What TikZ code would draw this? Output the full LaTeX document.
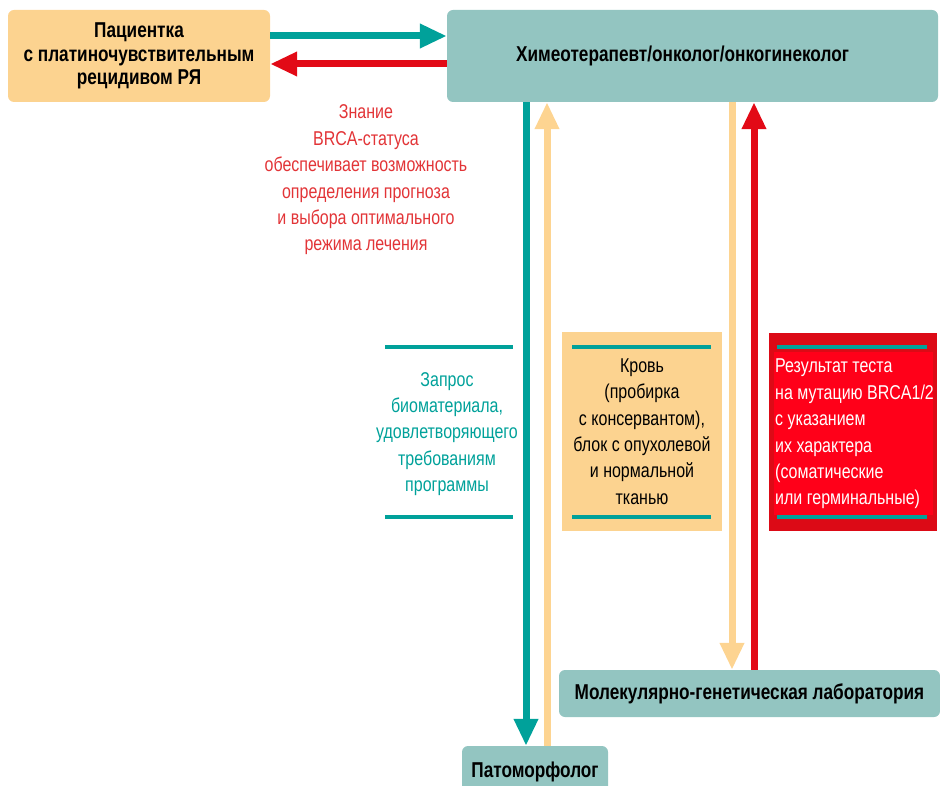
\documentclass[tikz,border=0pt]{standalone}
\usepackage{fontspec}
\setmainfont{Liberation Sans}[FakeStretch=0.8]
\usepackage{tikz}
\usetikzlibrary{arrows.meta,positioning,calc}
\definecolor{TealC}{RGB}{0,161,154}
\definecolor{TealBox}{RGB}{147,197,193}
\definecolor{OrBox}{RGB}{252,211,144}
\definecolor{OrArr}{RGB}{253,212,145}
\definecolor{RedC}{RGB}{226,10,22}
\definecolor{RedTxt}{RGB}{226,52,55}
\definecolor{RedOut}{RGB}{220,10,22}
\definecolor{RedIn}{RGB}{255,0,25}
\tikzset{
  box/.style={rounded corners=6pt,inner sep=0pt,align=center,
              font=\fontsize{21.5}{23.5}\selectfont\bfseries},
  pat/.style={box,fill=OrBox},
  spec/.style={box,fill=TealBox},
  note/.style={align=center,inner sep=0pt,font=\fontsize{20}{26.4}\selectfont},
  bar/.style={TealC,line width=4.5pt},
  tealarr/.style={-{Triangle[length=27pt,width=23pt]},line width=7pt,TealC},
  redarr/.style={-{Triangle[length=27pt,width=23pt]},line width=7pt,RedC},
  orarr/.style={-{Triangle[length=27pt,width=23pt]},line width=7pt,OrArr},
}

\begin{document}
\begin{tikzpicture}[x=1pt,y=-1pt]
  \useasboundingbox (0,0) rectangle (940,786);
  % boxes
  \node[pat,minimum width=262pt,minimum height=92pt] (pat) at (139,56)
    {Пациентка\\с платиночувствительным\\рецидивом РЯ};
  \node[spec,minimum width=491pt,minimum height=92pt] (chemo) at (692.5,56)
    {Химеотерапевт/онколог/онкогинеколог\hspace*{20pt}};
  \node[spec,minimum width=146pt,minimum height=52pt] (pato) at (535,772) {Патоморфолог};
  \node[spec,minimum width=381pt,minimum height=47pt] (lab) at (749.5,693.5)
    {Молекулярно-генетическая лаборатория};
  % arrows
  \draw[tealarr] ([yshift=20pt]pat.east) -- ([yshift=20pt]chemo.west);
  \draw[redarr] ([yshift=-8pt]chemo.west) -- ([yshift=-8pt]pat.east);
  \draw[tealarr] ([xshift=-166.5pt]chemo.south) -- ([xshift=-9pt]pato.north);
  \draw[orarr] ([xshift=12pt]pato.north) -- ([xshift=-145.5pt]chemo.south);
  \draw[orarr] ([xshift=39.5pt]chemo.south) -- ([xshift=-17.5pt]lab.north);
  \draw[redarr] ([xshift=4.5pt]lab.north) -- ([xshift=61.5pt]chemo.south);
  % texts
  \node[note,text=RedTxt] (know) at (366,180)
    {Знание\\BRCA-статуса\\обеспечивает возможность\\определения прогноза\\и выбора оптимального\\режима лечения};
  \node[note,text=TealC] (req) at (447,434)
    {Запрос\\биоматериала,\\удовлетворяющего\\требованиям\\программы};
  \node[note,fill=OrBox,minimum width=160pt,minimum height=199pt] (blood) at (642,431.5)
    {Кровь\\(пробирка\\с консервантом),\\блок с опухолевой\\и нормальной\\тканью};
  \node[fill=RedOut,minimum width=168pt,minimum height=198pt,inner sep=0pt] (res) at (853,432) {};
  \fill[RedIn] (774,352) rectangle (933,515);
  \node[note,align=left,anchor=west,text=white] (restxt) at (775,434)
    {Результат теста\\на мутацию BRCA1/2\\с указанием\\их характера\\(соматические\\или герминальные)};
  \foreach \y in {347,517} {
    \draw[bar] (385,\y) -- (513,\y);
    \draw[bar] (572,\y) -- (711,\y);
    \draw[bar] (777,\y) -- (927,\y);
  }
\end{tikzpicture}
\end{document}
